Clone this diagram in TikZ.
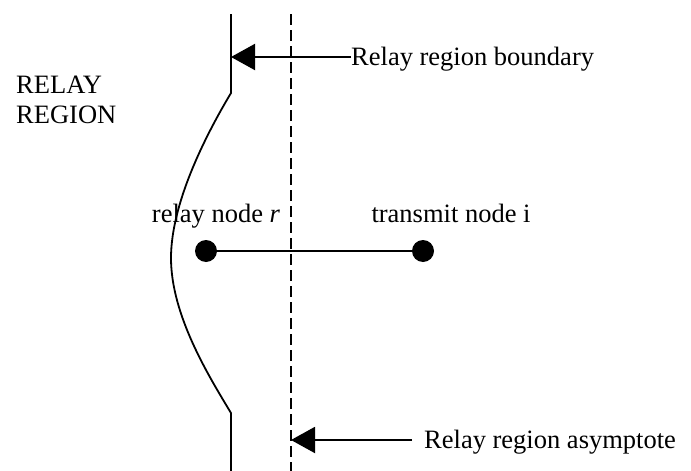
\documentclass[tikz,border=0pt]{standalone}
\usepackage{fontspec}
\setmainfont{Liberation Serif}
\usetikzlibrary{arrows.meta}
\begin{document}
\begin{tikzpicture}[x=1pt,y=-1pt,
  lbl/.style={inner sep=0pt,font=\fontsize{26.5}{30}\selectfont},
  dot/.style={circle,fill=black,minimum size=22pt,inner sep=0pt},
  pointer/.style={line width=2pt,-{Triangle[length=24pt,width=26pt]}},
  bound/.style={line width=1.8pt}]
\useasboundingbox (0,0) rectangle (691,471);
% relay region boundary
\draw[bound] (231,14) -- (231,93) .. controls (210,128) and (171,200) .. (171,258)
  .. controls (171,316) and (210,378) .. (231,413) -- (231,471);
% asymptote
\draw[line width=2pt,dash pattern=on 11pt off 5pt] (291,14) -- (291,471);
% nodes
\node[dot] (r) at (206,251) {};
\node[dot] (i) at (423,251) {};
\draw[line width=1.6pt] (r) -- (i);
\node[lbl,anchor=base] (rl) at (216,222) {relay node \textit{r}};
\node[lbl,anchor=base] (il) at (451,222) {transmit node i};
\node[lbl,anchor=west,align=left] (rr) at (16,100) {RELAY\\REGION};
% labels with arrows
\node[lbl,anchor=base west] (bl) at (351,65) {Relay region boundary};
\node[lbl,anchor=base west] (al) at (424,448) {Relay region asymptote};
\coordinate (bt) at (231,57);
\coordinate (at) at (291,440);
\draw[pointer] (bl.west |- bt) -- (bt);
\draw[pointer] ([xshift=-12pt]al.west |- at) -- (at);
\end{tikzpicture}
\end{document}
